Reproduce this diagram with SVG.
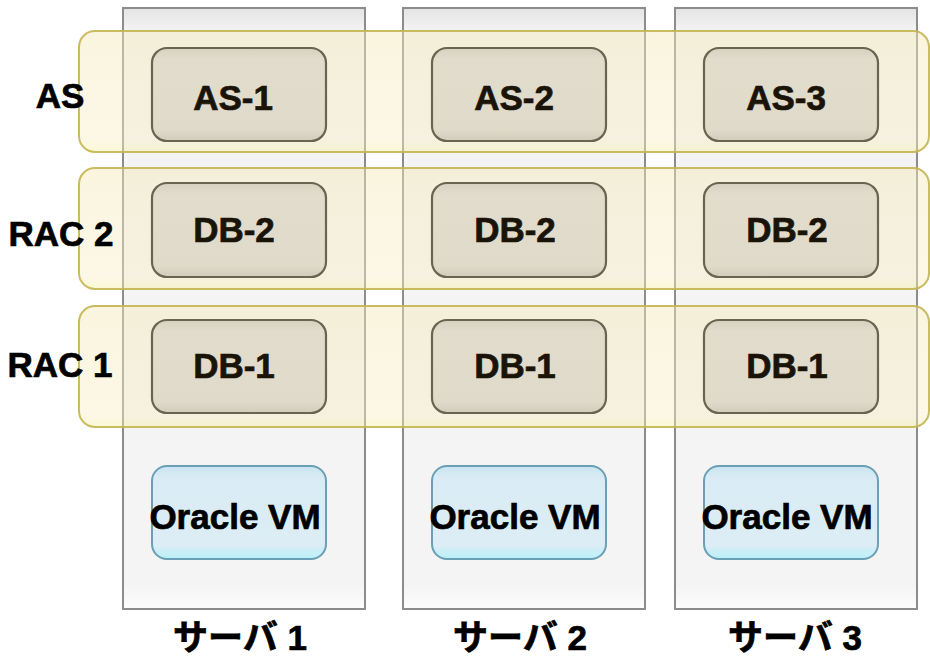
<svg xmlns="http://www.w3.org/2000/svg" width="930" height="659" viewBox="0 0 930 659">
<defs>
<linearGradient id="srvG" x1="0" y1="0" x2="0" y2="1">
<stop offset="0" stop-color="#e4e4e4"/>
<stop offset="0.04" stop-color="#f4f4f4"/>
<stop offset="0.96" stop-color="#f4f4f4"/>
<stop offset="1" stop-color="#fdfdfd"/>
</linearGradient>
<linearGradient id="boxG" x1="0" y1="0" x2="0" y2="1">
<stop offset="0" stop-color="#d6d0c0"/>
<stop offset="0.12" stop-color="#e2dccd"/>
<stop offset="0.88" stop-color="#e0dacb"/>
<stop offset="1" stop-color="#d2ccba"/>
</linearGradient>
<linearGradient id="vmG" x1="0" y1="0" x2="0" y2="1">
<stop offset="0" stop-color="#c8e4f0"/>
<stop offset="0.12" stop-color="#d9ebf4"/>
<stop offset="0.85" stop-color="#dcedf5"/>
<stop offset="1" stop-color="#b8f0f8"/>
</linearGradient>
<linearGradient id="bandG" x1="0" y1="0" x2="0" y2="1">
<stop offset="0" stop-color="#f6e9b8"/>
<stop offset="0.9" stop-color="#f8eec8"/>
<stop offset="1" stop-color="#f4f0a0"/>
</linearGradient>
</defs>
<style>
.srv{fill:url(#srvG);stroke:#8c8c8c;stroke-width:2}
.band{fill:url(#bandG);fill-opacity:0.45;stroke:#c4b550;stroke-opacity:0.9;stroke-width:2}
.box{fill:url(#boxG);stroke:#6a6450;stroke-width:2.2}
.vm{fill:url(#vmG);stroke:#6a9fb5;stroke-width:2}
text{font-family:"Liberation Sans","Noto Sans CJK JP",Arial,sans-serif;font-weight:bold;font-size:35px;fill:#000;stroke:#000;stroke-width:0.7;text-anchor:middle}
.in{fill:#1a1408;stroke:#1a1408}
.jp{font-size:35px}
</style>
<rect width="930" height="659" fill="#ffffff"/>
<g id="server-1"><rect class="srv" x="123" y="8" width="242" height="601"/><text class="jp" x="240" y="650">サーバ 1</text></g>
<g id="server-2"><rect class="srv" x="403" y="8" width="242" height="601"/><text class="jp" x="520" y="650">サーバ 2</text></g>
<g id="server-3"><rect class="srv" x="675" y="8" width="242" height="601"/><text class="jp" x="795" y="650">サーバ 3</text></g>
<g id="band-AS"><rect class="band" x="79" y="31" width="850" height="121" rx="16"/></g>
<g id="band-RAC2"><rect class="band" x="79" y="168" width="850" height="121" rx="16"/></g>
<g id="band-RAC1"><rect class="band" x="79" y="306" width="850" height="121" rx="16"/></g>
<g id="label-AS"><text x="60" y="108">AS</text></g>
<g id="label-RAC2"><text x="61" y="246">RAC 2</text></g>
<g id="label-RAC1"><text x="60" y="377">RAC 1</text></g>
<g id="AS-1"><rect class="box" x="152" y="48" width="174" height="93" rx="15"/><text class="in" x="233" y="110">AS-1</text></g>
<g id="AS-2"><rect class="box" x="432" y="48" width="174" height="93" rx="15"/><text class="in" x="514" y="110">AS-2</text></g>
<g id="AS-3"><rect class="box" x="704" y="48" width="174" height="93" rx="15"/><text class="in" x="786" y="110">AS-3</text></g>
<g id="DB-2-1"><rect class="box" x="152" y="183" width="174" height="94" rx="15"/><text class="in" x="234" y="242">DB-2</text></g>
<g id="DB-2-2"><rect class="box" x="432" y="183" width="174" height="94" rx="15"/><text class="in" x="515" y="242">DB-2</text></g>
<g id="DB-2-3"><rect class="box" x="704" y="183" width="174" height="94" rx="15"/><text class="in" x="787" y="242">DB-2</text></g>
<g id="DB-1-1"><rect class="box" x="152" y="320" width="174" height="93" rx="15"/><text class="in" x="234" y="378">DB-1</text></g>
<g id="DB-1-2"><rect class="box" x="432" y="320" width="174" height="93" rx="15"/><text class="in" x="515" y="378">DB-1</text></g>
<g id="DB-1-3"><rect class="box" x="704" y="320" width="174" height="93" rx="15"/><text class="in" x="787" y="378">DB-1</text></g>
<g id="VM-1"><rect class="vm" x="152" y="466" width="174" height="93" rx="15"/><text x="235" y="529" font-size="36">Oracle VM</text></g>
<g id="VM-2"><rect class="vm" x="432" y="466" width="174" height="93" rx="15"/><text x="515" y="529" font-size="36">Oracle VM</text></g>
<g id="VM-3"><rect class="vm" x="704" y="466" width="174" height="93" rx="15"/><text x="787" y="529" font-size="36">Oracle VM</text></g>
</svg>
